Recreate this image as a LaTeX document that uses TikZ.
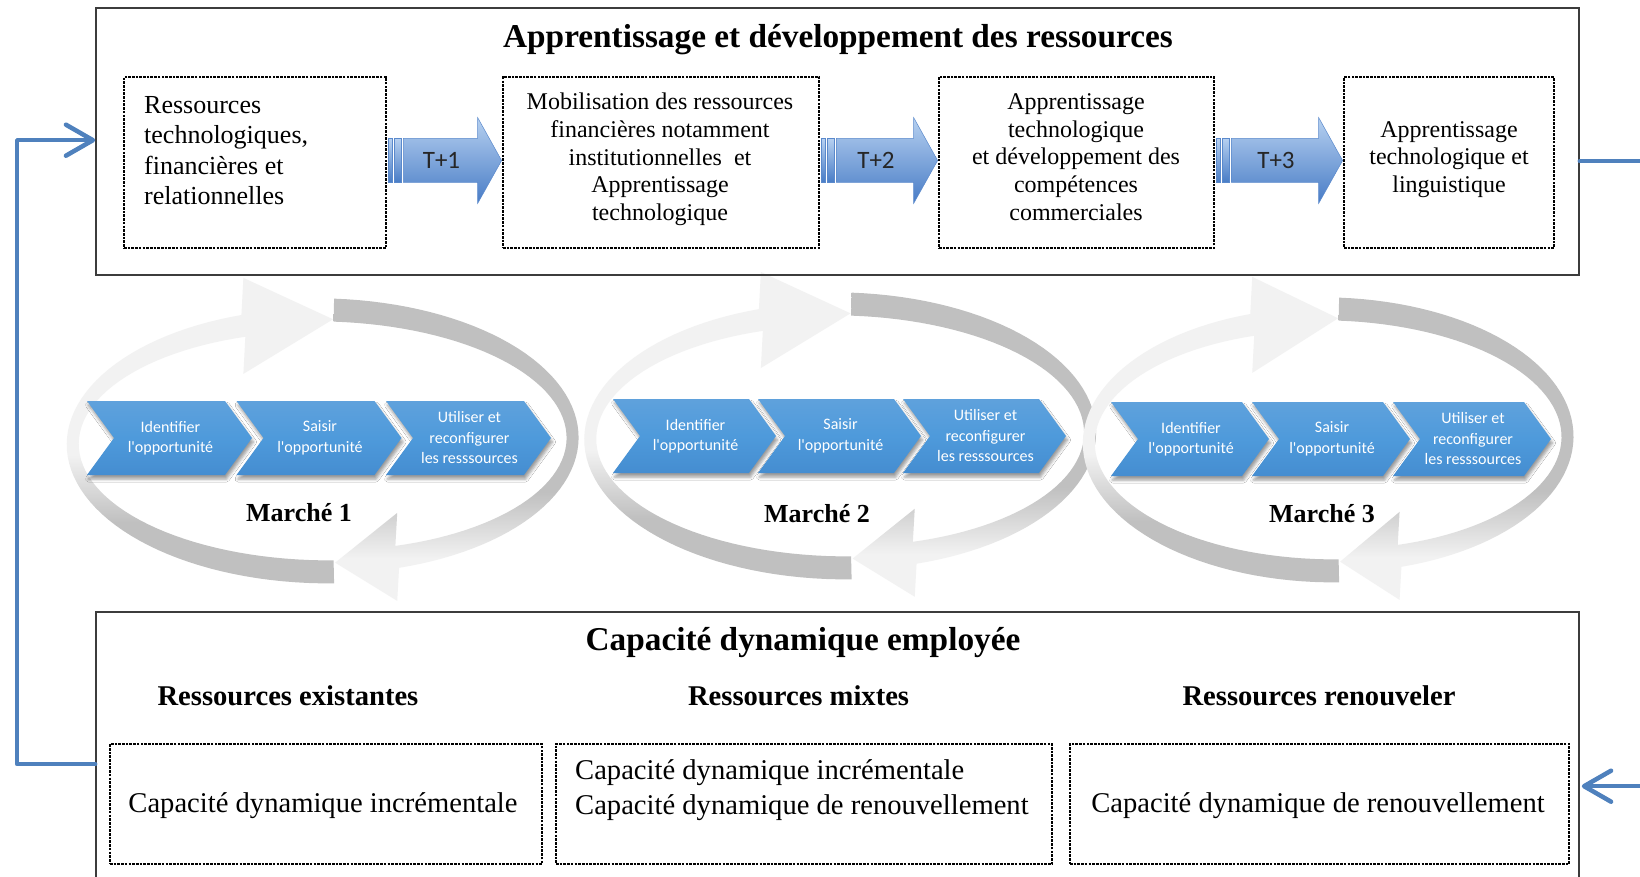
\documentclass[tikz,border=0pt]{standalone}
\usepackage{fontspec}
\setmainfont{Liberation Serif}
\newfontfamily\calibri{Carlito}
\usetikzlibrary{calc,arrows.meta,shadows.blur}

\definecolor{ringdark}{RGB}{192,192,192}
\definecolor{ringlight}{RGB}{242,242,242}
\definecolor{chevtop}{RGB}{112,169,222}
\definecolor{chevmid}{RGB}{78,154,219}
\definecolor{chevbot}{RGB}{60,128,198}
\definecolor{linkblue}{RGB}{79,129,189}
\definecolor{tarrtop}{RGB}{182,208,240}
\definecolor{tarrbot}{RGB}{72,124,198}
\definecolor{framegray}{RGB}{60,60,60}

% shadings of the two half-ring arrows and of the chevrons
\pgfdeclareverticalshading{upperring}{100bp}{color(0bp)=(ringdark); color(35bp)=(ringdark); color(46bp)=(ringlight); color(100bp)=(ringlight)}
\pgfdeclareverticalshading{lowerring}{100bp}{color(0bp)=(ringlight); color(32bp)=(ringlight); color(43bp)=(ringdark); color(100bp)=(ringdark)}
\pgfdeclareverticalshading{chevshade}{100bp}{color(0bp)=(chevbot); color(50bp)=(chevmid); color(100bp)=(chevtop)}

\newcommand{\setfs}[2]{\fontsize{#1}{#2}\selectfont}

% half-ring arrow that spirals slightly inwards from tail to head
% #1 cx, #2 cy, #3 A0, #4 B0, #5 tail angle, #6 head angle, #7 tip angle, #8 head half width, #9 shading
\def\rsh{0.93}\def\rhx{6}\def\rhy{11.5}
\newcommand{\ringarrow}[9]{%
  \pgfmathsetmacro{\ramx}{#1+#3*\rsh*cos(#6)}%
  \pgfmathsetmacro{\ramy}{#2+#4*\rsh*sin(#6)}%
  \pgfmathsetmacro{\rasg}{sin(#6)>0 ? 1 : -1}%
  \pgfmathsetmacro{\ratx}{#1+#3*\rsh*cos(#7)}%
  \pgfmathsetmacro{\raty}{#2+#4*\rsh*sin(#7)}%
  \path[shade, shading=#9]
    plot[domain=#5:#6, samples=60, variable=\t]
      ({#1+(#3*(1+(\rsh-1)*(\t-(#5))/((#6)-(#5)))+\rhx)*cos(\t)},
       {#2+(#4*(1+(\rsh-1)*(\t-(#5))/((#6)-(#5)))+\rhy)*sin(\t)})
    -- (\ramx,{\ramy+\rasg*#8}) -- (\ratx,\raty) -- (\ramx,{\ramy-\rasg*#8})
    -- plot[domain=#6:#5, samples=60, variable=\t]
      ({#1+(#3*(1+(\rsh-1)*(\t-(#5))/((#6)-(#5)))-\rhx)*cos(\t)},
       {#2+(#4*(1+(\rsh-1)*(\t-(#5))/((#6)-(#5)))-\rhy)*sin(\t)})
    -- cycle;
}

% process chevron: #1 name, #2 left, #3 top, #4 width, #5 text
\newcommand{\chevron}[5]{%
  \path[chevpath] (#2,#3) -- ({#2+#4-27},#3) -- ({#2+#4},{#3+37}) -- ({#2+#4-27},{#3+74})
    -- (#2,{#3+74}) -- ({#2+27},{#3+37}) -- cycle;
  \node[chevtext] (#1) at ({#2+#4/2+1},{#3+37}) {#5};
}

% striped block arrow between two boxes: #1 label name, #2 from, #3 to, #4 label
\newcommand{\steparrow}[4]{%
  \path[tarr] ($(#2.east)+(1,-24)$) rectangle ($(#2.east)+(5,20)$);
  \path[tarr] ($(#2.east)+(7,-24)$) rectangle ($(#2.east)+(14,20)$);
  \path[tarr] ($(#2.east)+(16,-24)$) -- ($(#3.west)+(-24,-24)$) -- ($(#3.west)+(-24,-45)$)
    -- ($(#3.west)+(0,-2)$) -- ($(#3.west)+(-24,41)$) -- ($(#3.west)+(-24,20)$)
    -- ($(#2.east)+(16,20)$) -- cycle;
  \node[tlabel] (#1) at ($(#2.east)!0.5!(#3.west)+(-3,-2)$) {#4};
}

\begin{document}
\begin{tikzpicture}[x=1pt, y=-1pt,
  framebox/.style={draw=framegray, line width=1.6, inner sep=0},
  dotbox/.style={draw=black, line width=2.8, dash pattern=on 2.6pt off 1.1pt, inner sep=0},
  txt/.style={inner sep=0, align=center},
  chevpath/.style={shade, shading=chevshade,
    blur shadow={shadow xshift=1.5pt, shadow yshift=-4pt, shadow blur radius=3pt, shadow opacity=40}},
  chevtext/.style={inner sep=0, align=center, text=white, font=\calibri\setfs{16}{20.5}},
  tarr/.style={shade, top color=tarrtop, bottom color=tarrbot, draw=tarrbot!90, line width=0.5},
  tlabel/.style={inner sep=0, font=\calibri\setfs{25}{28}, text=black!85},
  conn/.style={draw=linkblue, line width=4.5, line cap=round, line join=round},
  tip/.style={-{Straight Barb[length=27pt, width=31pt, round]}},
  bighead/.style={inner sep=0, anchor=base, font=\bfseries\setfs{33.3}{38}},
  subhead/.style={inner sep=0, anchor=base, font=\bfseries\setfs{28.6}{33}},
  market/.style={inner sep=0, anchor=base, font=\bfseries\setfs{26}{30}}]

\useasboundingbox (0,0) rectangle (1640,877);
\fill[white] (0,0) rectangle (1640,877);
\clip (0,0) rectangle (1640,877);

% ---------------- market cycles ----------------
\ringarrow{322.5}{441}{260}{131}{-87.5}{72}{87}{44}{lowerring}
\ringarrow{322.5}{441}{260}{131}{87.5}{250.9}{272.5}{48}{upperring}
\ringarrow{840}{436}{260}{132}{-87.5}{72}{87}{44}{lowerring}
\ringarrow{840}{436}{260}{132}{87.5}{250.9}{272.5}{48}{upperring}
\ringarrow{1328}{440}{249}{131}{-87.5}{72}{87}{44}{lowerring}
\ringarrow{1328}{440}{249}{131}{87.5}{250.9}{272.5}{48}{upperring}

\chevron{ma1}{87}{401}{165}{Identifier\\l\textquotesingle opportunité}
\chevron{ma2}{236.5}{401}{165}{Saisir\\l\textquotesingle opportunité}
\chevron{ma3}{386}{401}{165}{Utiliser et\\reconfigurer\\les resssources}
\chevron{mb1}{613}{399}{163}{Identifier\\l\textquotesingle opportunité}
\chevron{mb2}{758}{399}{163}{Saisir\\l\textquotesingle opportunité}
\chevron{mb3}{903}{399}{163}{Utiliser et\\reconfigurer\\les resssources}
\chevron{mc1}{1111}{402}{158}{Identifier\\l\textquotesingle opportunité}
\chevron{mc2}{1252}{402}{158}{Saisir\\l\textquotesingle opportunité}
\chevron{mc3}{1393}{402}{158}{Utiliser et\\reconfigurer\\les resssources}

\node[market] (mk1) at (299,521) {Marché 1};
\node[market] (mk2) at (817,522) {Marché 2};
\node[market] (mk3) at (1322,522) {Marché 3};

% ---------------- resource learning frame ----------------
\node[framebox, minimum width=1483, minimum height=267] (top) at (837.5,141.5) {};
\node[bighead] (toptitle) at (838,47.5) {Apprentissage et développement des ressources};

\node[dotbox, minimum width=262, minimum height=171] (b1) at (255,162.5) {};
\node[dotbox, minimum width=316, minimum height=171] (b2) at (661,162.5) {};
\node[dotbox, minimum width=275, minimum height=171] (b3) at (1076.5,162.5) {};
\node[dotbox, minimum width=210, minimum height=171] (b4) at (1449,162.5) {};

\node[txt, align=left, anchor=west, font=\setfs{26}{30.5}] (t1) at (144,150.5)
  {Ressources\\technologiques,\\financières et\\relationnelles};
\node[txt, font=\setfs{24}{27.7}] (t2) at (660,159.5)
  {Mobilisation des ressources\\financières notamment\\institutionnelles \ et\\Apprentissage\\technologique};
\node[txt, font=\setfs{24}{27.7}] (t3) at (1076,157)
  {Apprentissage\\technologique\\et développement des\\compétences\\commerciales};
\node[txt, font=\setfs{24}{27.7}] (t4) at (1449,159.5)
  {Apprentissage\\technologique et\\linguistique};

\steparrow{s1}{b1}{b2}{T+1}
\steparrow{s2}{b2}{b3}{T+2}
\steparrow{s3}{b3}{b4}{T+3}

% ---------------- dynamic capability frame ----------------
\node[framebox, minimum width=1483, minimum height=300] (bot) at (837.5,762) {};
\node[bighead] (bottitle) at (803,650) {Capacité dynamique employée};
\node[subhead] (h1) at (288,705) {Ressources existantes};
\node[subhead] (h2) at (798.6,705) {Ressources mixtes};
\node[subhead] (h3) at (1319,705) {Ressources renouveler};

\node[dotbox, minimum width=432, minimum height=120] (c1) at (326,804) {};
\node[dotbox, minimum width=496, minimum height=120] (c2) at (804,804) {};
\node[dotbox, minimum width=499, minimum height=120] (c3) at (1319.5,804) {};

\node[inner sep=0, anchor=base, font=\setfs{28.6}{34.5}] (d1) at (323,812) {Capacité dynamique incrémentale};
\node[txt, align=left, anchor=west, font=\setfs{28.6}{34.5}] (d2) at (575,790)
  {Capacité dynamique incrémentale\\Capacité dynamique de renouvellement};
\node[inner sep=0, anchor=base, font=\setfs{28.6}{34.5}] (d3) at (1318,812) {Capacité dynamique de renouvellement};

% ---------------- feedback connectors ----------------
\coordinate (loopstart) at ($(bot.north west)+(0,153)$);
\coordinate (loopend) at ($(top.north west)+(0,133)$);
\draw[conn, tip] (loopstart) -- ++(-78,0) |- (loopend);

\coordinate (outright) at ($(top.north east)+(80,154)$);
\draw[conn] ($(top.north east)+(0,154)$) -- (outright);

\coordinate (inright) at ($(bot.north east)+(80,175)$);
\draw[conn, tip] (inright) -- ($(bot.north east)+(2,175)$);

\end{tikzpicture}
\end{document}
